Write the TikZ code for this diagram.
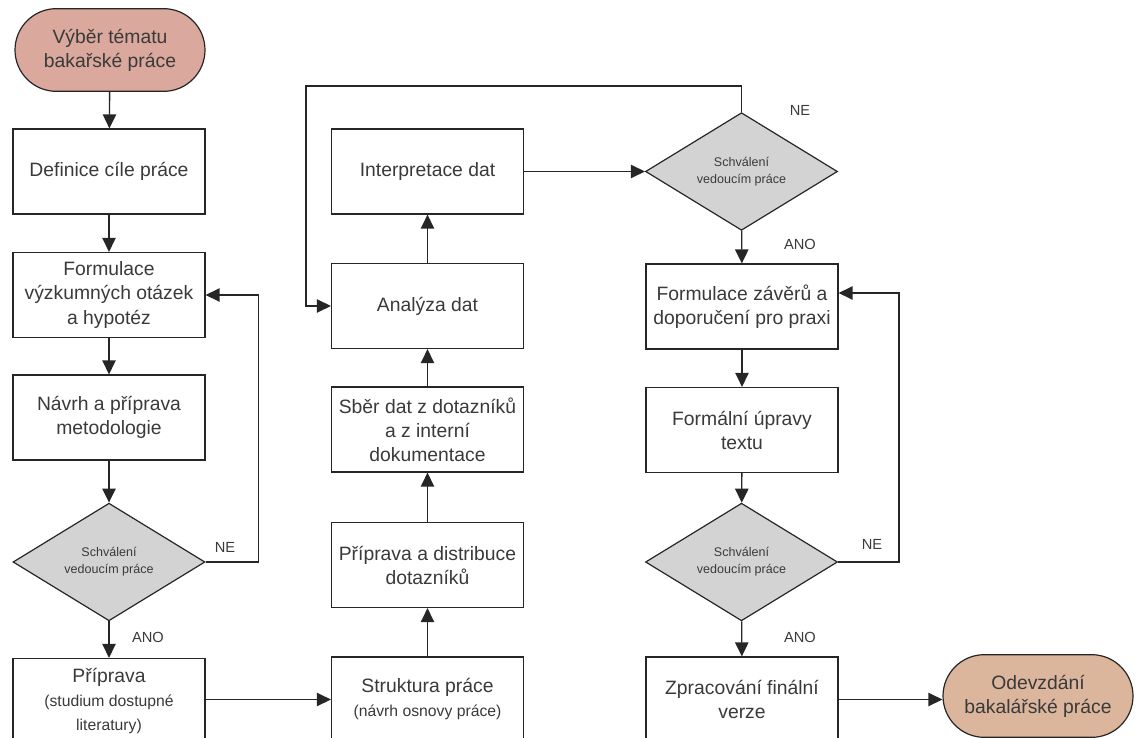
\documentclass[tikz,border=0pt]{standalone}
\usepackage{fontspec}
\setmainfont{Liberation Sans}
\usetikzlibrary{shapes.geometric,arrows.meta,calc}
\definecolor{startfill}{RGB}{218,168,156}
\definecolor{endfill}{RGB}{219,181,156}
\definecolor{decfill}{RGB}{211,211,211}
\definecolor{ink}{RGB}{58,58,58}
\definecolor{edge}{RGB}{38,38,38}

\begin{document}
\begin{tikzpicture}[x=0.75pt,y=-0.75pt,
  every node/.style={text=ink,font=\fontsize{14.5}{18}\selectfont},
  procbox/.style={draw=edge,line width=0.9pt,fill=white,minimum width=144pt,
    minimum height=63.75pt,align=center,inner sep=2pt},
  terminal/.style={draw=edge,line width=0.9pt,rounded corners=31pt,
    minimum width=142.5pt,minimum height=62pt,align=center},
  decision/.style={diamond,draw=edge,line width=0.9pt,fill=decfill,
    minimum width=144pt,minimum height=84pt,inner sep=0pt,align=center,
    font=\fontsize{9.4}{12.5}\selectfont},
  flow/.style={draw=edge,line width=1pt,-{Triangle[length=10.5pt,width=10pt]}},
  lbl/.style={font=\fontsize{11}{13}\selectfont},
  subtext/.style={font=\fontsize{11.8}{15}\selectfont}
]
\useasboundingbox (0,0) rectangle (1138,738);
\clip (0,0) rectangle (1138,738);

% left column
\node[terminal,fill=startfill] (start) at (110,50) {Výběr tématu\\bakařské práce};
\node[procbox] (def)   at (109,171.5) {Definice cíle práce};
\node[procbox] (form)  at (109,295)   {Formulace\\výzkumných otázek\\a hypotéz};
\node[procbox] (navrh) at (109,417.5) {Návrh a příprava\\metodologie};
\node[decision] (d1)   at (109,562)   {Schválení\\vedoucím práce};
\node[procbox] (prip)  at (109,701) {Příprava\\{\fontsize{11.8}{15}\selectfont (studium dostupné}\\{\fontsize{11.8}{15}\selectfont literatury)}};

% middle column
\node[procbox] (strukt)  at (427.5,699.5) {Struktura práce\\{\fontsize{11.8}{15}\selectfont (návrh osnovy práce)}};
\node[procbox] (distr)   at (427.5,565)   {Příprava a distribuce\\dotazníků};
\node[procbox] (sber)    at (427.5,429.5) {Sběr dat z dotazníků\\a z interní\\dokumentace};
\node[procbox] (analyza) at (427.5,306)   {Analýza dat};
\node[procbox] (interp)  at (427.5,171.5) {Interpretace dat};

% right column
\node[decision] (d2)   at (741.5,171.5) {Schválení\\vedoucím práce};
\node[procbox] (zaver) at (742,306.5)   {Formulace závěrů a\\doporučení pro praxi};
\node[procbox] (formal) at (742,430)    {Formální úpravy\\textu};
\node[decision] (d3)   at (741.5,562)   {Schválení\\vedoucím práce};
\node[procbox] (zprac) at (742,699.5)   {Zpracování finální\\verze};
\node[terminal,fill=endfill] (finish) at (1038,696) {Odevzdání\\bakalářské práce};

% branch labels
\node[lbl] (ne1)  at (225,547) {NE};
\node[lbl] (ano1) at (148,637) {ANO};
\node[lbl] (ne2)  at (800,110) {NE};
\node[lbl] (ano2) at (800,244) {ANO};
\node[lbl] (ne3)  at (872,544) {NE};
\node[lbl] (ano3) at (800,637) {ANO};

% connectors
\draw[flow] (start) -- (def);
\draw[flow] (def) -- (form);
\draw[flow] (form) -- (navrh);
\draw[flow] (navrh) -- (d1);
\draw[flow] (d1) -- (prip);
\draw[flow] (d1.east) -- ++(53,0) |- (form.east);
\draw[flow] (prip.east |- strukt.west) -- (strukt.west);

\draw[flow] (strukt) -- (distr);
\draw[flow] (distr) -- (sber);
\draw[flow] (sber) -- (analyza);
\draw[flow] (analyza) -- (interp);
\draw[flow] (interp.east) -- (d2.west);
\draw[flow] (d2.north) -- ++(0,-26) -| ($(analyza.west)+(-25,0)$) -- (analyza.west);

\draw[flow] (d2) -- (zaver);
\draw[flow] (zaver) -- (formal);
\draw[flow] (formal) -- (d3);
\draw[flow] (d3) -- (zprac);
\draw[flow] (d3.east) -- ++(61,0) |- ($(zaver.east)+(0,-13.5)$);
\draw[flow] (zprac.east) -- (finish.west |- zprac.east);
\end{tikzpicture}
\end{document}
